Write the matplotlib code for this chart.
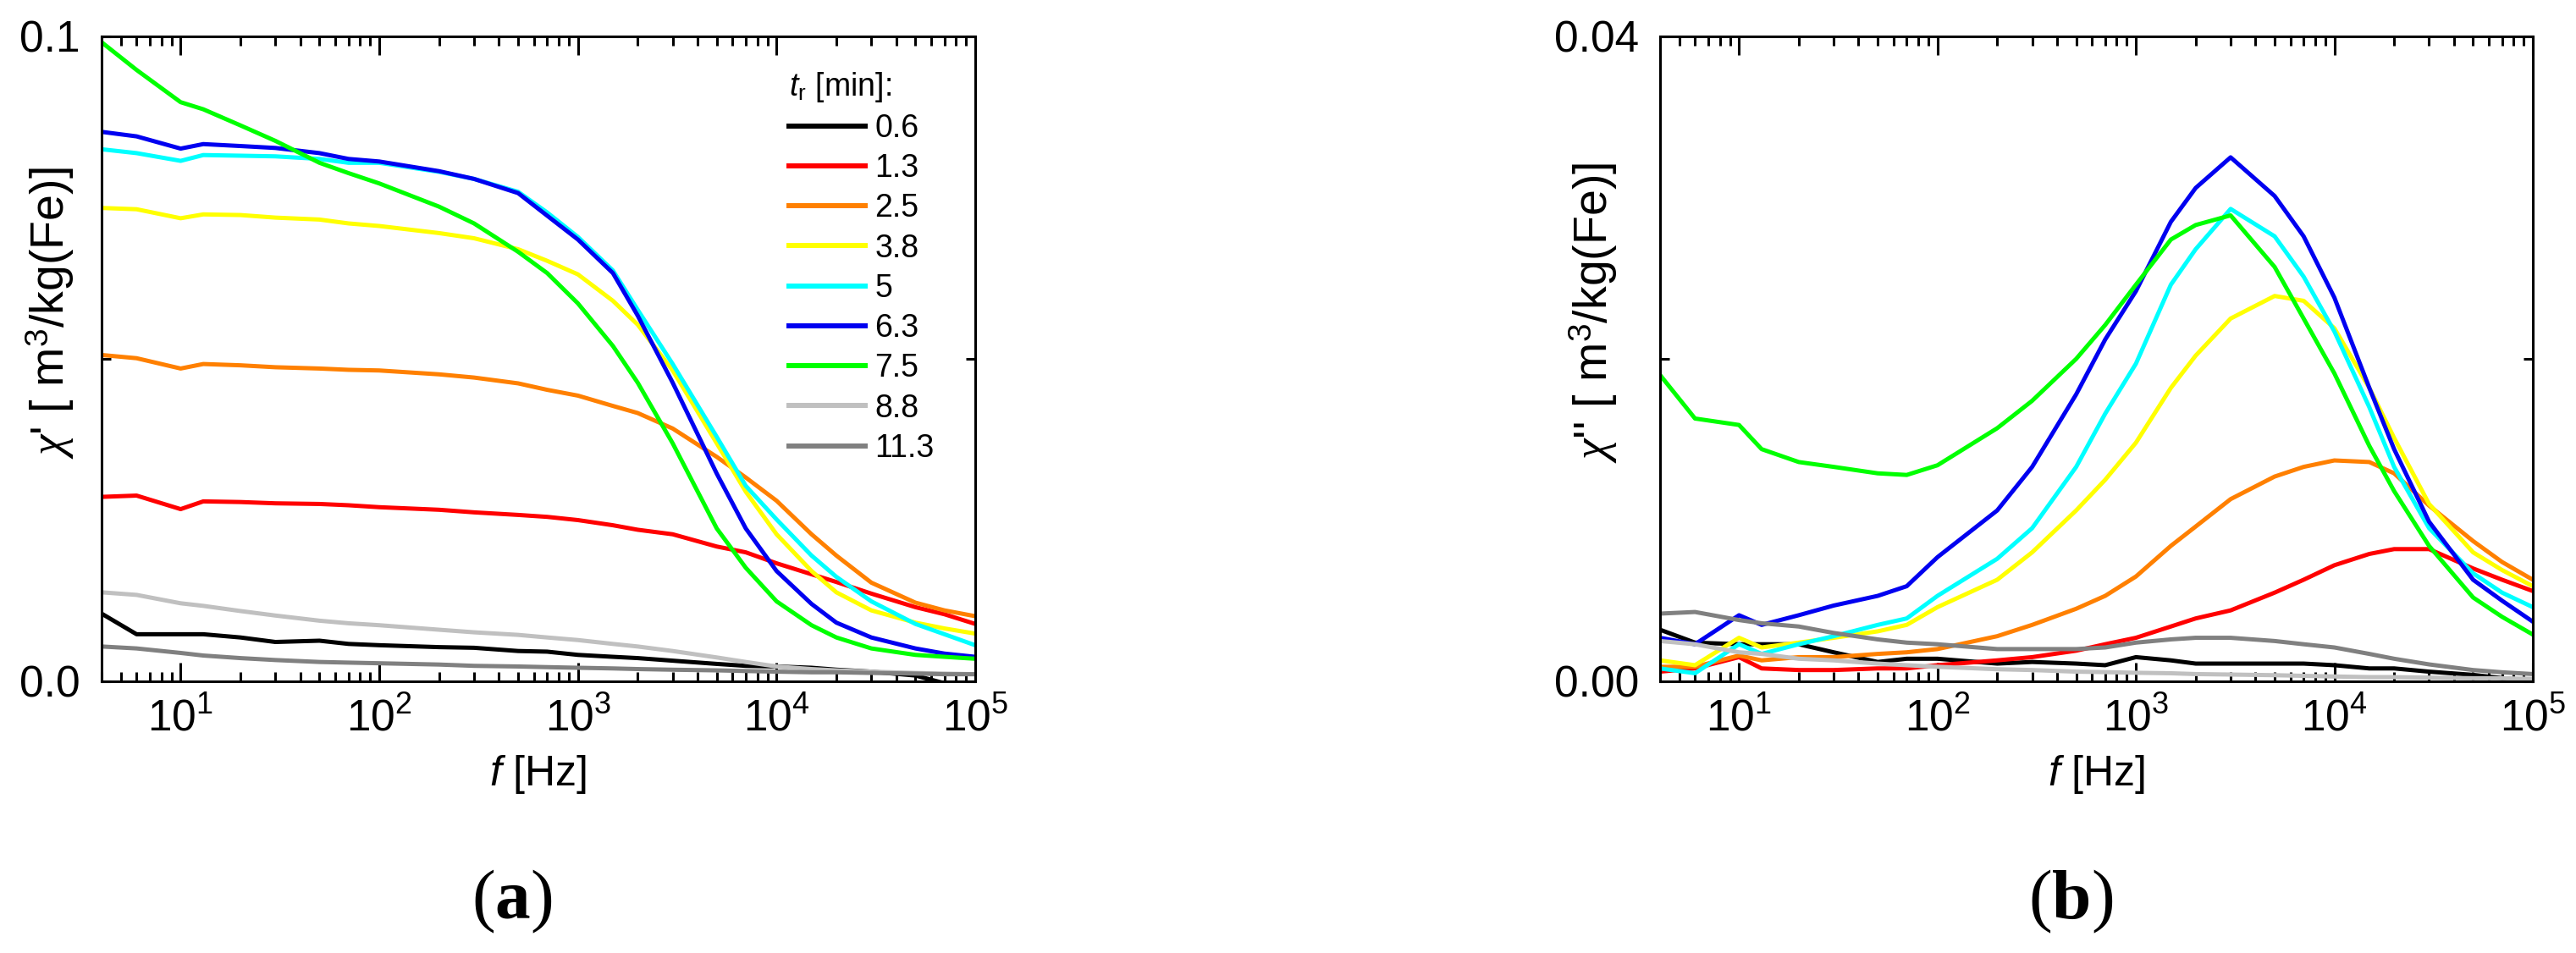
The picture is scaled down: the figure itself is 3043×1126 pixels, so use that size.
import math
import matplotlib
matplotlib.use("Agg")
import matplotlib.pyplot as plt
from matplotlib.ticker import FixedLocator, LogLocator, FuncFormatter, NullFormatter

plt.rcParams['font.family'] = ['Liberation Sans Narrow', 'Liberation Sans', 'DejaVu Sans']
plt.rcParams['mathtext.fontset'] = 'custom'
plt.rcParams['mathtext.rm'] = 'Liberation Sans'
plt.rcParams['mathtext.it'] = 'Liberation Serif:italic'
plt.rcParams['mathtext.sf'] = 'Liberation Sans:italic'
plt.rcParams['mathtext.bf'] = 'Liberation Serif:bold'

# frequency grid [Hz]
freq = [4, 6, 10, 13, 20, 30, 50, 70, 100, 200, 300, 500, 700, 1000, 1500,
        2000, 3000, 5000, 7000, 10000, 15000, 20000, 30000, 50000, 70000, 100000]

t_r = ['0.6', '1.3', '2.5', '3.8', '5', '6.3', '7.5', '8.8', '11.3']
colors = ['#000000', '#ff0000', '#ff8000', '#ffff00', '#00ffff', '#0000f0',
          '#00ff00', '#c0c0c0', '#808080']

# chi' [x 0.001 m3/kg(Fe)]
chi1_06 = [10.5, 7.3, 7.3, 7.3, 6.8, 6.1, 6.3, 5.8, 5.6, 5.3, 5.2, 4.7, 4.6, 4.1, 3.8,
           3.6, 3.2, 2.7, 2.4, 2.3, 2.1, 1.8, 1.5, 0.9, -0.3, -1.2]
chi1_13 = [28.6, 28.8, 26.7, 27.9, 27.8, 27.6, 27.5, 27.3, 27.0, 26.6, 26.2, 25.8, 25.5, 25.0, 24.2,
           23.5, 22.8, 20.9, 20.0, 18.3, 16.6, 15.4, 13.6, 11.5, 10.4, 8.9]
chi1_25 = [50.6, 50.1, 48.5, 49.2, 49.0, 48.7, 48.5, 48.3, 48.2, 47.6, 47.1, 46.2, 45.2, 44.3, 42.7,
           41.6, 39.2, 34.8, 31.6, 28.0, 22.8, 19.5, 15.3, 12.2, 11.0, 10.1]
chi1_38 = [73.4, 73.2, 71.8, 72.4, 72.3, 71.9, 71.6, 71.0, 70.6, 69.5, 68.7, 67.0, 65.2, 63.1, 59.0,
           55.3, 48.2, 36.9, 29.4, 22.8, 17.1, 13.8, 11.0, 9.1, 8.2, 7.4]
chi1_50 = [82.5, 81.9, 80.7, 81.6, 81.5, 81.4, 81.0, 80.4, 80.4, 79.0, 77.9, 75.9, 72.7, 68.9, 63.7,
           57.6, 49.2, 37.9, 30.3, 25.1, 19.5, 16.2, 12.4, 8.9, 7.3, 5.6]
chi1_63 = [85.2, 84.5, 82.6, 83.3, 83.0, 82.7, 81.9, 81.0, 80.6, 79.1, 77.9, 75.7, 72.2, 68.5, 63.3,
           56.7, 46.3, 32.2, 23.7, 17.1, 12.0, 9.1, 6.8, 5.1, 4.3, 3.8]
chi1_75 = [99.1, 94.8, 89.8, 88.7, 86.2, 83.8, 80.4, 78.8, 77.2, 73.6, 71.0, 66.6, 63.3, 58.6, 52.0,
           46.3, 36.9, 23.7, 17.6, 12.4, 8.7, 6.8, 5.1, 4.1, 3.8, 3.5]
chi1_88 = [13.8, 13.4, 12.1, 11.7, 10.9, 10.2, 9.4, 9.0, 8.7, 8.0, 7.6, 7.2, 6.8, 6.4, 5.8,
           5.4, 4.7, 3.7, 3.0, 2.3, 1.9, 1.7, 1.5, 1.3, 1.2, 1.1]
chi1_113 = [5.4, 5.1, 4.4, 4.0, 3.6, 3.3, 3.0, 2.9, 2.8, 2.6, 2.4, 2.3, 2.2, 2.1, 2.0,
            1.9, 1.8, 1.7, 1.6, 1.5, 1.4, 1.4, 1.3, 1.2, 1.1, 1.1]

# chi'' [x 0.001 m3/kg(Fe)]
chi2_06 = [3.2, 2.4, 2.3, 2.3, 2.3, 1.8, 1.2, 1.4, 1.4, 1.1, 1.2, 1.1, 1.0, 1.5, 1.3,
           1.1, 1.1, 1.1, 1.1, 1.0, 0.8, 0.8, 0.6, 0.4, 0.2, 0.0]
chi2_13 = [0.6, 0.8, 1.5, 0.8, 0.7, 0.7, 0.8, 0.8, 1.0, 1.3, 1.5, 1.9, 2.3, 2.7, 3.4,
           3.9, 4.4, 5.5, 6.3, 7.2, 7.9, 8.2, 8.2, 7.0, 6.3, 5.6]
chi2_25 = [0.9, 0.9, 1.6, 1.3, 1.5, 1.5, 1.7, 1.8, 2.0, 2.8, 3.5, 4.5, 5.3, 6.5, 8.4,
           9.6, 11.3, 12.7, 13.3, 13.7, 13.6, 12.9, 10.9, 8.7, 7.4, 6.3]
chi2_38 = [1.3, 1.0, 2.7, 2.1, 2.4, 2.7, 3.1, 3.5, 4.6, 6.3, 8.0, 10.6, 12.5, 14.8, 18.2,
           20.2, 22.5, 23.9, 23.6, 21.9, 18.2, 15.1, 11.0, 8.0, 6.9, 5.9]
chi2_50 = [0.8, 0.5, 2.3, 1.7, 2.3, 2.8, 3.5, 3.9, 5.3, 7.6, 9.5, 13.3, 16.6, 19.7, 24.6,
           26.8, 29.3, 27.6, 25.1, 21.7, 17.0, 13.3, 9.5, 6.7, 5.5, 4.6]
chi2_63 = [2.7, 2.3, 4.1, 3.5, 4.1, 4.7, 5.3, 5.9, 7.7, 10.6, 13.3, 17.8, 21.2, 24.2, 28.5,
           30.6, 32.5, 30.1, 27.6, 23.8, 18.2, 14.4, 9.9, 6.3, 5.0, 3.7]
chi2_75 = [19.0, 16.3, 15.9, 14.4, 13.6, 13.3, 12.9, 12.8, 13.4, 15.7, 17.4, 20.0, 22.1, 24.6, 27.4,
           28.3, 28.9, 25.7, 22.5, 19.1, 14.6, 11.8, 8.4, 5.2, 4.0, 2.9]
chi2_88 = [2.5, 2.3, 1.8, 1.7, 1.4, 1.3, 1.1, 1.0, 0.9, 0.75, 0.7, 0.6, 0.57, 0.53, 0.5,
           0.45, 0.42, 0.38, 0.34, 0.3, 0.26, 0.26, 0.23, 0.19, 0.19, 0.15]
chi2_113 = [4.2, 4.3, 3.8, 3.6, 3.4, 3.0, 2.6, 2.4, 2.3, 2.0, 2.0, 2.0, 2.1, 2.4, 2.6,
            2.7, 2.7, 2.5, 2.3, 2.1, 1.7, 1.4, 1.05, 0.7, 0.56, 0.45]

chi1 = [chi1_06, chi1_13, chi1_25, chi1_38, chi1_50, chi1_63, chi1_75, chi1_88, chi1_113]
chi2 = [chi2_06, chi2_13, chi2_25, chi2_38, chi2_50, chi2_63, chi2_75, chi2_88, chi2_113]

W, H = 3043, 1126
fig = plt.figure(figsize=(W / 100, H / 100), dpi=100)
ax1 = fig.add_axes([120 / W, 1 - 805 / H, 1032 / W, 762 / H])
ax2 = fig.add_axes([1961 / W, 1 - 805 / H, 1031 / W, 762 / H])

lw = 3.6
for c, s1, s2, lab in zip(colors, chi1, chi2, t_r):
    ax1.plot(freq, [v * 0.001 for v in s1], color=c, lw=lw, label=lab)
    ax2.plot(freq, [v * 0.001 for v in s2], color=c, lw=lw, label=lab)

label_font = 'Liberation Sans'


def decade(x, pos):
    return r'$\mathregular{10^{%d}}$' % round(math.log10(x))


for ax in (ax1, ax2):
    ax.set_xscale('log')
    ax.set_xlim(4, 1e5)
    ax.xaxis.set_major_locator(FixedLocator([10, 100, 1000, 10000, 100000]))
    ax.xaxis.set_major_formatter(FuncFormatter(decade))
    ax.xaxis.set_minor_locator(LogLocator(base=10, subs=range(2, 10), numticks=20))
    ax.xaxis.set_minor_formatter(NullFormatter())
    ax.tick_params(axis='both', which='both', direction='in', top=True, right=True,
                   labelsize=37, width=2.2, pad=14)
    ax.tick_params(axis='x', which='major', length=16)
    ax.tick_params(axis='x', which='minor', length=8)
    ax.tick_params(axis='y', which='major', length=8, pad=18)
    for sp in ax.spines.values():
        sp.set_linewidth(2.2)
    ax.set_xlabel(r'$\mathsf{f}$ [Hz]', fontsize=36, family=label_font)
    ax.xaxis.set_label_coords(0.5, -0.112)

ax1.set_ylim(0, 0.1)
ax1.set_yticks([0, 0.05, 0.1], ['0.0', '', '0.1'])
ax2.set_ylim(0, 0.04)
ax2.set_yticks([0, 0.02, 0.04], ['0.00', '', '0.04'])

ax1.set_ylabel(r"$\chi$' [ m$^\mathregular{3}$/kg(Fe)]", fontsize=40, family=label_font)
ax1.yaxis.set_label_coords(-0.029, 0.571)
ax2.set_ylabel(r"$\chi$'' [ m$^\mathregular{3}$/kg(Fe)]", fontsize=40, family=label_font)
ax2.yaxis.set_label_coords(-0.047, 0.571)

leg = ax1.legend(loc='upper left', bbox_to_anchor=(0.787, 0.948), frameon=False,
                 borderpad=0, borderaxespad=0, handlelength=2.4, handletextpad=0.3,
                 labelspacing=0.3, prop={'family': label_font, 'size': 27},
                 title=r'$\mathsf{t}_\mathregular{r}$ [min]:',
                 title_fontproperties={'family': label_font, 'size': 27},
                 alignment='left')
for line in leg.get_lines():
    line.set_linewidth(4.3)

fig.text(605 / W, 1 - 1065 / H, r'($\mathbf{a}$)', fontsize=60, family='Liberation Serif',
         ha='center', va='center')
fig.text(2446 / W, 1 - 1065 / H, r'($\mathbf{b}$)', fontsize=60, family='Liberation Serif',
         ha='center', va='center')

fig.savefig('out.png', dpi=100)
